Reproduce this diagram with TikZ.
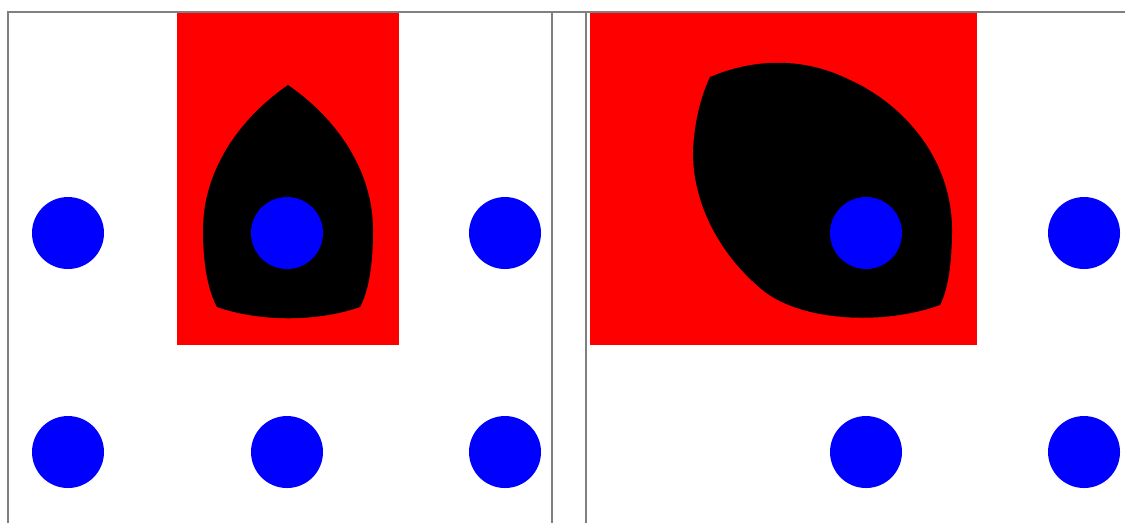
\documentclass[tikz,border=0pt]{standalone}
\usepackage{tikz}
\usetikzlibrary{positioning}

\begin{document}
\begin{tikzpicture}
              [x=0.01cm,y=-0.01cm,
                frame/.style={draw=black!50,line width=0.6pt},
                zone/.style={fill=red,draw=none},
                blob/.style={fill=black,draw=none},
                site/.style={fill=blue,draw=none}]
              \useasboundingbox (0,0) rectangle (1125,523);
              % red regions
              \fill[zone] (177,13) rectangle (399,345);
              \fill[zone] (590,13) rectangle (977,345);
              % left blob
              \fill[blob] (288,85) .. controls (240,118) and (203,170) .. (203,230)
                .. controls (203,268) and (209,292) .. (217,307)
                .. controls (260,322) and (317,322) .. (360,307)
                .. controls (368,292) and (373,268) .. (373,230)
                .. controls (373,170) and (336,118) .. (288,85) -- cycle;
              % right blob
              \fill[blob] (710,77) .. controls (750,60) and (800,55) .. (850,80)
                .. controls (905,105) and (952,160) .. (952,230)
                .. controls (952,262) and (948,290) .. (940,305)
                .. controls (885,325) and (805,322) .. (765,292)
                .. controls (722,258) and (692,205) .. (693,150)
                .. controls (695,115) and (703,92) .. (710,77) -- cycle;
              % sites
              \foreach \x/\y in {68/233,287/233,505/233,68/452,287/452,505/452,
                                 866/233,1084/233,866/452,1084/452}
              \fill[site] (\x,\y) circle (36);
              % panel frames
              \draw[frame] (8,523) -- (8,12) -- (1125,12);
              \draw[frame] (552,12) -- (552,523);
              \draw[frame] (586,12) -- (586,523);
            \end{tikzpicture}
\end{document}
